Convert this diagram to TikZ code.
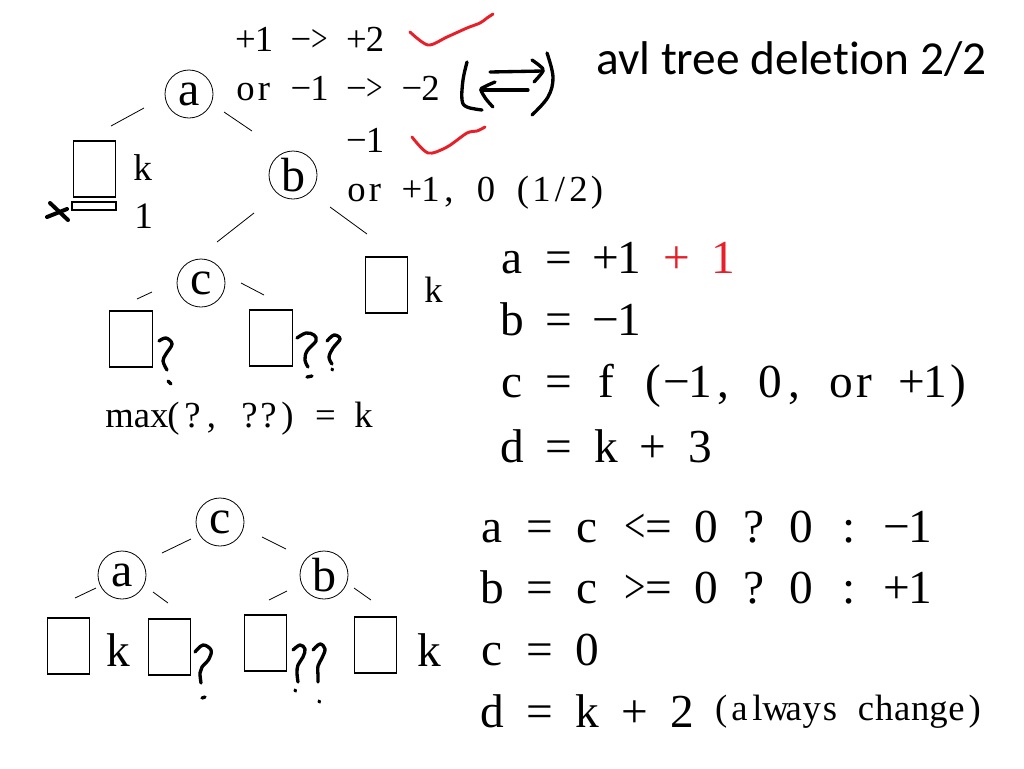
\documentclass[tikz,border=0pt]{standalone}
\usepackage{fontspec}
\setmainfont{Liberation Serif}
\newfontfamily\titlefont[Ligatures=NoCommon]{Carlito}
\usepackage{graphicx}
\makeatletter
\newlength\mpitch
\newcommand\mono[2]{\setlength\mpitch{#1}\mono@#2\@nil}
\def\mono@#1{\ifx#1\@nil\else\makebox[\mpitch][c]{#1}\expandafter\mono@\fi}
\makeatother
\newcommand\ltc{\scalebox{0.8}[1.05]{<}}
\newcommand\gtc{\scalebox{0.8}[1.05]{>}}
\definecolor{hred}{RGB}{232,30,40}
\begin{document}
\begin{tikzpicture}[x=0.75pt,y=-0.75pt,
  smalltxt/.style={font=\fontsize{27.5}{30}\selectfont, inner sep=0pt, anchor=base west},
  bigtxt/.style={font=\fontsize{35.5}{40}\selectfont, inner sep=0pt, anchor=base west},
  circ/.style={circle, draw, line width=0.6pt, minimum size=36pt, inner sep=0pt, font=\fontsize{36}{40}\selectfont},
  leaf/.style={rectangle, draw, line width=0.9pt, minimum width=32pt, minimum height=42pt, inner sep=0pt},
  edge/.style={line width=0.6pt},
  hand/.style={line width=2.5pt, line cap=round, line join=round},
  check/.style={line width=2.2pt, line cap=round, line join=round, color=hred}]
\fill[white] (0,0) rectangle (1024,768);
\useasboundingbox (0,0) rectangle (1024,768);

% title
\node[inner sep=0pt, anchor=base west, font=\titlefont\fontsize{35.5}{40}\selectfont] (title) at (596,74) {avl tree deletion 2/2};

% top notes
\node[smalltxt] (t1) at (236,51) {\mono{13.875pt}{+1~−\gtc~+2}};
\node[smalltxt] (t2) at (236,100) {\mono{13.875pt}{or~−1~−\gtc~−2}};
\node[smalltxt] (t3) at (347,152) {\mono{13.875pt}{−1}};
\node[smalltxt] (t4) at (347,201) {\mono{13.875pt}{or~+1,~0~(1/2)}};

% check marks
\draw[check] plot[smooth, tension=0.5] coordinates {(410,32) (428,45) (447,37) (467,28) (480,23) (487,18) (493,14)};
\draw[check] plot[smooth, tension=0.5] coordinates {(412,137) (428,153) (447,147) (467,133) (477,131) (485,127)};

% rotation symbol
\draw[hand] plot[smooth, tension=0.6] coordinates {(467,62) (463,80) (462,100) (467,107) (482,110)};
\draw[hand] plot[smooth, tension=0.6] coordinates {(547,53) (553,77) (548,97) (532,115)};
\coordinate (ar1s) at (490,72);
\coordinate (ar1e) at (543,71);
\draw[hand] (ar1s) -- (ar1e);
\draw[hand] plot[smooth, tension=0.6] coordinates {(532,60) (540,66) (543,71) (534,82)};
\coordinate (ar2s) at (528,90);
\coordinate (ar2e) at (481,90);
\draw[hand] (ar2s) -- (ar2e);
\draw[hand] plot[smooth, tension=0.6] coordinates {(495,82) (484,87) (481,90) (486,99) (493,107)};

% ---------- top tree ----------
\node[circ] (a1) at (189,94) {a};
\node[circ] (b1) at (293,175) {b};
\node[circ] (c1) at (201,283) {c};
\node[leaf] (L1) at (94.5,169) {};
\node[rectangle, draw, line width=0.9pt, minimum width=33pt, minimum height=6pt, inner sep=0pt] (L1x) at (94,206) {};
\node[smalltxt, font=\fontsize{28}{30}\selectfont] (k1) at (133,180) {k};
\node[smalltxt, font=\fontsize{28}{30}\selectfont] (one1) at (134,228) {1};
\draw[line width=3pt, line cap=round] (50,203) -- (68,220);
\draw[line width=3pt, line cap=round] (47,217) -- (67,209);

\coordinate (e1a) at (144,108); \coordinate (e1b) at (111,126);
\coordinate (e2a) at (224,112); \coordinate (e2b) at (252,131);
\coordinate (e3a) at (254,213); \coordinate (e3b) at (217,242);
\coordinate (e4a) at (330,207); \coordinate (e4b) at (367,234);
\coordinate (e5a) at (152,292); \coordinate (e5b) at (137,299);
\coordinate (e6a) at (241,283); \coordinate (e6b) at (264,295);
\draw[edge] (e1a) -- (e1b);
\draw[edge] (e2a) -- (e2b);
\draw[edge] (e3a) -- (e3b);
\draw[edge] (e4a) -- (e4b);
\draw[edge] (e5a) -- (e5b);
\draw[edge] (e6a) -- (e6b);

\node[leaf] (L2) at (131,339) {};
\node[leaf] (L3) at (271,338) {};
\node[leaf] (L4) at (386.5,285) {};
\node[smalltxt] (k2) at (424,302) {k};

% question marks (middle)
\draw[hand] plot[smooth, tension=0.6] coordinates {(159,341) (166,338) (172,344) (166,354) (163,361) (167,370)};
\draw[hand] (168,381) -- (171,384);
\draw[hand] plot[smooth, tension=0.6] coordinates {(297,338) (306,333) (314,335) (316,341) (307,351) (305,360) (308,367)};
\draw[hand] (307,377) -- (312,376);
\draw[hand] plot[smooth, tension=0.6] coordinates {(327,341) (334,335) (340,339) (333,348) (329,357) (332,364)};
\draw[hand] (332,369) -- (332.5,370);

\node[smalltxt] (maxt) at (105,427) {\makebox[44pt][l]{max}\mono{14.25pt}{(?,~??)~=~k}};

% right equations (top)
\node[bigtxt] (r1) at (500,273) {\mono{17.625pt}{a~=~+1~}{\color{hred}\mono{17.625pt}{+~1}}};
\node[bigtxt] (r2) at (500,335) {\mono{17.625pt}{b~=~−1}};
\node[bigtxt] (r3) at (500,397) {\mono{17.625pt}{c~=~f~(−1,~0,~or~+1)}};
\node[bigtxt] (r4) at (500,462) {\mono{17.625pt}{d~=~k~+~3}};

% ---------- bottom tree ----------
\node[circ] (c2) at (220,522) {c};
\node[circ] (a2) at (122,575) {a};
\node[circ] (b2) at (324,575) {b};
\coordinate (f1a) at (191,539); \coordinate (f1b) at (162,553);
\coordinate (f2a) at (262,537); \coordinate (f2b) at (286,549);
\coordinate (f3a) at (96,588);  \coordinate (f3b) at (75,598);
\coordinate (f4a) at (153,592); \coordinate (f4b) at (168,603);
\coordinate (f5a) at (287,591); \coordinate (f5b) at (269,600);
\coordinate (f6a) at (354,588); \coordinate (f6b) at (371,600);
\draw[edge] (f1a) -- (f1b);
\draw[edge] (f2a) -- (f2b);
\draw[edge] (f3a) -- (f3b);
\draw[edge] (f4a) -- (f4b);
\draw[edge] (f5a) -- (f5b);
\draw[edge] (f6a) -- (f6b);

\node[leaf] (B1) at (68.5,646) {};
\node[leaf] (B2) at (169.5,647) {};
\node[leaf] (B3) at (265.5,643) {};
\node[leaf] (B4) at (375.5,645) {};
\node[bigtxt] (k3) at (106,666) {k};
\node[bigtxt] (k4) at (417,666) {k};

\draw[hand] plot[smooth, tension=0.6] coordinates {(195,652) (203,645) (211,650) (209,659) (202,667) (200,673) (201,683)};
\draw[hand] (202,698) -- (205,697);
\draw[hand] plot[smooth, tension=0.6] coordinates {(293,650) (300,645) (305,649) (303,657) (298,665) (297,673) (298,682)};
\draw[hand] (295,690) -- (295.5,691);
\draw[hand] plot[smooth, tension=0.6] coordinates {(313,650) (320,644) (325,649) (322,658) (318,666) (318,676) (318,682)};
\draw[hand] (319,701) -- (319.5,702);

% right equations (bottom)
\node[bigtxt] (s1) at (480,542) {\mono{17.85pt}{a~=~c~\ltc=~0~?~0~:~−1}};
\node[bigtxt] (s2) at (480,603) {\mono{17.85pt}{b~=~c~\gtc=~0~?~0~:~+1}};
\node[bigtxt] (s3) at (480,665) {\mono{17.85pt}{c~=~0}};
\node[bigtxt] (s4) at (480,727) {\mono{17.85pt}{d~=~k~+~2}};
\node[smalltxt] (s5) at (712,720) {\mono{13.575pt}{(always~change)}};
\end{tikzpicture}
\end{document}
